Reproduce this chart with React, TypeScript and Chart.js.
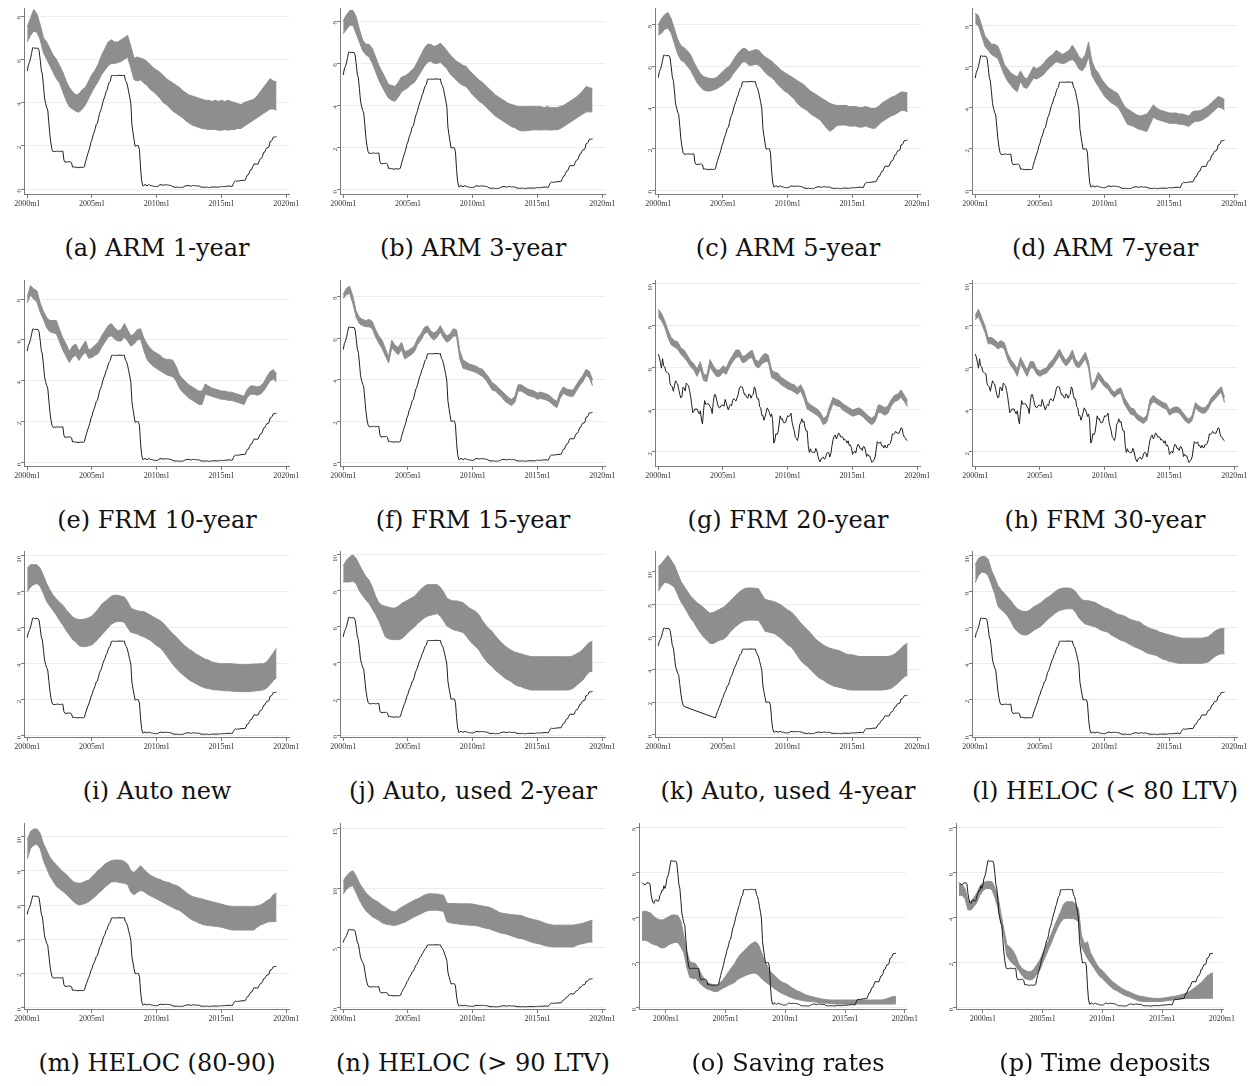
import React, { useEffect, useRef } from "react";
import { Chart, registerables } from "chart.js";

Chart.register(...registerables);

// Effective federal funds rate, monthly from 1998m1
const fedFundsStart = 1998;
const fedFunds = [
  5.56, 5.51, 5.49, 5.45, 5.49, 5.56, 5.54, 5.55, 5.51, 5.07, 4.83, 4.68,
  4.63, 4.76, 4.81, 4.74, 4.74, 4.76, 4.99, 5.07, 5.22, 5.2, 5.42, 5.3,
  5.45, 5.73, 5.85, 6.02, 6.27, 6.53, 6.54, 6.5, 6.52, 6.51, 6.51, 6.4,
  5.98, 5.49, 5.31, 4.8, 4.21, 3.97, 3.77, 3.65, 3.07, 2.49, 2.09, 1.82,
  1.73, 1.74, 1.73, 1.75, 1.75, 1.75, 1.73, 1.74, 1.75, 1.75, 1.34, 1.24,
  1.24, 1.26, 1.25, 1.26, 1.26, 1.22, 1.01, 1.03, 1.01, 1.01, 1.0, 0.98,
  1.0, 1.01, 1.0, 1.0, 1.0, 1.03, 1.26, 1.43, 1.61, 1.76, 1.93, 2.16,
  2.28, 2.5, 2.63, 2.79, 3.0, 3.04, 3.26, 3.5, 3.62, 3.78, 4.0, 4.16,
  4.29, 4.49, 4.59, 4.79, 4.94, 4.99, 5.24, 5.25, 5.25, 5.25, 5.25, 5.24,
  5.25, 5.26, 5.26, 5.25, 5.25, 5.25, 5.26, 5.02, 4.94, 4.76, 4.49, 4.24,
  3.94, 2.98, 2.61, 2.28, 1.98, 2.0, 2.01, 2.0, 1.81, 0.97, 0.39, 0.16,
  0.15, 0.22, 0.18, 0.15, 0.18, 0.21, 0.16, 0.16, 0.15, 0.12, 0.12, 0.12,
  0.11, 0.13, 0.16, 0.2, 0.2, 0.18, 0.18, 0.19, 0.19, 0.19, 0.19, 0.18,
  0.17, 0.16, 0.14, 0.1, 0.09, 0.09, 0.07, 0.1, 0.08, 0.07, 0.08, 0.07,
  0.08, 0.1, 0.13, 0.14, 0.16, 0.16, 0.16, 0.13, 0.14, 0.16, 0.16, 0.16,
  0.14, 0.15, 0.14, 0.15, 0.11, 0.09, 0.09, 0.08, 0.08, 0.09, 0.08, 0.09,
  0.07, 0.07, 0.08, 0.09, 0.09, 0.1, 0.09, 0.09, 0.09, 0.09, 0.09, 0.12,
  0.11, 0.11, 0.11, 0.12, 0.12, 0.13, 0.13, 0.14, 0.14, 0.12, 0.12, 0.24,
  0.34, 0.38, 0.36, 0.37, 0.37, 0.38, 0.39, 0.4, 0.4, 0.4, 0.41, 0.54,
  0.65, 0.66, 0.79, 0.9, 0.91, 1.04, 1.15, 1.16, 1.15, 1.15, 1.16, 1.3,
  1.41, 1.42, 1.51, 1.69, 1.7, 1.82, 1.91, 1.91, 1.95, 2.19, 2.2, 2.27,
  2.4, 2.4, 2.41, 2.42,
];

// 10-year Treasury yield, monthly from 2000m1
const treasuryStart = 2000;
const treasury10 = [
  6.66, 6.52, 6.26, 5.99, 6.44, 6.1, 6.05, 5.83, 5.8, 5.74, 5.72, 5.24,
  5.16, 5.1, 4.89, 5.14, 5.39, 5.28, 5.24, 4.97, 4.73, 4.57, 4.65, 5.09,
  5.04, 4.91, 5.28, 5.21, 5.16, 4.93, 4.65, 4.26, 3.87, 3.94, 4.05, 4.03,
  4.05, 3.9, 3.81, 3.96, 3.57, 3.33, 3.98, 4.45, 4.27, 4.29, 4.3, 4.27,
  4.15, 4.08, 3.83, 4.35, 4.72, 4.73, 4.5, 4.28, 4.13, 4.1, 4.19, 4.23,
  4.22, 4.17, 4.5, 4.34, 4.14, 4.0, 4.18, 4.26, 4.2, 4.46, 4.54, 4.47,
  4.42, 4.57, 4.72, 4.99, 5.11, 5.11, 5.09, 4.88, 4.72, 4.73, 4.6, 4.56,
  4.76, 4.72, 4.56, 4.69, 4.75, 5.1, 5.0, 4.67, 4.52, 4.53, 4.15, 4.1,
  3.74, 3.74, 3.51, 3.68, 3.88, 4.1, 4.01, 3.89, 3.69, 3.81, 3.53, 2.42,
  2.52, 2.87, 2.82, 2.93, 3.29, 3.72, 3.56, 3.59, 3.4, 3.39, 3.4, 3.59,
  3.73, 3.69, 3.73, 3.85, 3.42, 3.2, 3.01, 2.7, 2.65, 2.54, 2.76, 3.29,
  3.39, 3.58, 3.41, 3.46, 3.17, 3.0, 3.0, 2.3, 1.98, 2.15, 2.01, 1.98,
  1.97, 1.97, 2.17, 2.05, 1.8, 1.62, 1.53, 1.68, 1.72, 1.75, 1.65, 1.72,
  1.91, 1.98, 1.96, 1.76, 1.93, 2.3, 2.58, 2.74, 2.81, 2.62, 2.72, 2.9,
  2.86, 2.71, 2.72, 2.71, 2.56, 2.6, 2.54, 2.42, 2.53, 2.3, 2.33, 2.21,
  1.88, 1.98, 2.04, 1.94, 2.2, 2.36, 2.32, 2.17, 2.17, 2.07, 2.26, 2.24,
  2.09, 1.78, 1.89, 1.81, 1.81, 1.64, 1.5, 1.56, 1.63, 1.76, 2.14, 2.49,
  2.43, 2.42, 2.48, 2.3, 2.3, 2.19, 2.32, 2.21, 2.2, 2.36, 2.35, 2.4,
  2.58, 2.86, 2.84, 2.87, 2.98, 2.91, 2.89, 2.89, 3.0, 3.15, 3.12, 2.83,
  2.71, 2.68, 2.57, 2.53,
];

// Quarterly range of offered rates (low / high), from 2000q1
const loanStart = 2000;

const armOneHigh = [
  7.5, 7.9, 8.3, 8.1, 7.6, 7.0, 6.8, 6.5, 6.2, 6.0, 5.7, 5.4, 5.0, 4.7, 4.5, 4.35,
  4.4, 4.6, 4.7, 5.0, 5.3, 5.5, 5.8, 6.2, 6.5, 6.8, 6.9, 6.8, 6.8, 6.9, 7.0, 7.1,
  6.6, 6.05, 6.1, 6.05, 6.0, 5.9, 5.75, 5.6, 5.5, 5.4, 5.25, 5.1, 5.0, 4.9, 4.8, 4.7,
  4.55, 4.45, 4.35, 4.3, 4.25, 4.2, 4.15, 4.1, 4.1, 4.05, 4.1, 4.05, 4.1, 4.05, 4.1, 4.05,
  4.0, 3.95, 3.9, 4.0, 4.05, 4.1, 4.15, 4.3, 4.5, 4.7, 4.9, 5.1, 5.0, 4.95,
];
const armOneLow = [
  6.8, 7.1, 7.3, 7.25, 6.9, 6.3, 6.0, 5.7, 5.4, 5.1, 4.9, 4.5, 4.1, 3.8, 3.7, 3.6,
  3.55, 3.7, 3.9, 4.2, 4.5, 4.75, 5.0, 5.3, 5.5, 5.7, 5.8, 5.8, 5.85, 5.9, 6.0, 6.1,
  5.6, 5.05, 5.0, 5.05, 4.9, 4.8, 4.6, 4.5, 4.35, 4.2, 4.0, 3.9, 3.75, 3.6, 3.5, 3.4,
  3.3, 3.15, 3.05, 2.95, 2.9, 2.85, 2.8, 2.78, 2.75, 2.75, 2.75, 2.72, 2.72, 2.75, 2.72, 2.75,
  2.75, 2.8, 2.8, 2.9, 3.0, 3.1, 3.2, 3.3, 3.4, 3.5, 3.6, 3.7, 3.7, 3.65,
];

const armThreeHigh = [
  8.0, 8.3, 8.5, 8.5, 8.2, 7.6, 7.1, 6.9, 6.9, 6.7, 6.3, 5.9, 5.6, 5.3, 5.0, 4.95,
  4.9, 5.1, 5.35, 5.4, 5.5, 5.65, 5.8, 6.1, 6.4, 6.7, 6.9, 6.9, 6.8, 6.85, 6.95, 6.8,
  6.6, 6.4, 6.25, 6.1, 6.0, 5.9, 5.85, 5.65, 5.5, 5.35, 5.2, 5.1, 4.95, 4.8, 4.65, 4.5,
  4.4, 4.3, 4.2, 4.1, 4.05, 4.0, 3.95, 3.95, 3.95, 3.95, 3.95, 3.95, 3.95, 3.95, 3.9, 3.95,
  3.9, 3.9, 3.9, 3.95, 4.0, 4.1, 4.2, 4.3, 4.4, 4.55, 4.7, 4.9, 4.85, 4.8,
];
const armThreeLow = [
  7.4, 7.6, 7.8, 7.8, 7.4, 7.0, 6.6, 6.4, 6.3, 6.0, 5.6, 5.2, 4.9, 4.6, 4.35, 4.25,
  4.2, 4.4, 4.65, 4.75, 4.85, 5.0, 5.1, 5.35, 5.6, 5.85, 6.05, 6.1, 6.0, 6.0, 6.05, 5.9,
  5.75, 5.5, 5.35, 5.2, 5.05, 4.95, 4.9, 4.7, 4.5, 4.35, 4.2, 4.1, 3.95, 3.8, 3.65, 3.5,
  3.4, 3.3, 3.2, 3.1, 3.0, 2.95, 2.85, 2.8, 2.8, 2.82, 2.84, 2.85, 2.85, 2.84, 2.85, 2.85,
  2.84, 2.85, 2.85, 2.9, 3.0, 3.1, 3.2, 3.3, 3.4, 3.5, 3.6, 3.7, 3.7, 3.7,
];

const armFiveHigh = [
  8.0, 8.3, 8.5, 8.6, 8.3, 7.8, 7.3, 7.0, 6.9, 6.75, 6.55, 6.2, 5.9, 5.65, 5.5, 5.45,
  5.4, 5.4, 5.45, 5.6, 5.75, 5.9, 6.0, 6.25, 6.5, 6.7, 6.85, 6.85, 6.7, 6.75, 6.8, 6.78,
  6.6, 6.45, 6.35, 6.25, 6.1, 5.95, 5.8, 5.7, 5.6, 5.5, 5.4, 5.3, 5.2, 5.1, 4.95, 4.8,
  4.7, 4.6, 4.5, 4.4, 4.3, 4.2, 4.15, 4.1, 4.1, 4.1, 4.1, 4.05, 4.05, 4.05, 4.0, 4.0,
  4.05, 4.0, 3.95, 3.95, 4.05, 4.2, 4.3, 4.4, 4.5, 4.55, 4.65, 4.75, 4.75, 4.7,
];
const armFiveLow = [
  7.5, 7.6, 7.8, 7.85, 7.6, 7.1, 6.6, 6.3, 6.2, 6.0, 5.8, 5.5, 5.2, 5.0, 4.85, 4.8,
  4.8, 4.85, 4.9, 5.0, 5.1, 5.25, 5.35, 5.6, 5.8, 6.0, 6.2, 6.2, 6.05, 6.05, 6.1, 6.05,
  5.9, 5.7, 5.55, 5.45, 5.3, 5.1, 4.95, 4.8, 4.7, 4.55, 4.4, 4.2, 4.05, 3.95, 3.85, 3.7,
  3.6, 3.5, 3.4, 3.2, 3.0, 2.85, 2.95, 3.1, 3.15, 3.15, 3.15, 3.1, 3.1, 3.1, 3.05, 3.05,
  3.1, 3.05, 3.0, 3.0, 3.15, 3.3, 3.4, 3.5, 3.6, 3.65, 3.75, 3.85, 3.85, 3.8,
];

const armSevenHigh = [
  8.6, 8.5, 8.0, 7.5, 7.3, 7.1, 7.1, 7.0, 6.6, 6.1, 5.9, 5.7, 5.6, 5.5, 5.8, 5.5,
  5.4, 5.7, 6.0, 5.9, 6.0, 6.15, 6.35, 6.5, 6.6, 6.8, 6.7, 6.6, 6.7, 6.8, 7.05, 6.8,
  6.5, 6.35, 6.6, 7.2, 6.3, 5.9, 5.7, 5.4, 5.2, 5.0, 4.9, 4.8, 4.7, 4.4, 4.1, 3.95,
  3.85, 3.75, 3.65, 3.6, 3.65, 3.7, 3.9, 4.15, 4.0, 3.9, 3.85, 3.8, 3.75, 3.75, 3.75, 3.7,
  3.7, 3.65, 3.6, 3.8, 3.85, 3.85, 3.9, 4.0, 4.1, 4.25, 4.4, 4.55, 4.5, 4.4,
];
const armSevenLow = [
  8.1, 8.0, 7.5, 7.0, 6.8, 6.6, 6.5, 6.4, 6.0, 5.6, 5.3, 5.1, 4.9, 4.8, 5.3, 5.0,
  4.95, 5.2, 5.45, 5.4, 5.5, 5.6, 5.8, 5.95, 6.1, 6.25, 6.2, 6.15, 6.2, 6.3, 6.35, 6.2,
  5.9, 5.8, 6.0, 6.5, 5.6, 5.3, 5.05, 4.8, 4.55, 4.4, 4.25, 4.15, 4.05, 3.8, 3.5, 3.2,
  3.15, 3.1, 3.0, 2.95, 2.9, 2.85, 3.2, 3.55, 3.45, 3.4, 3.35, 3.3, 3.25, 3.25, 3.25, 3.2,
  3.2, 3.15, 3.1, 3.25, 3.35, 3.35, 3.4, 3.5, 3.6, 3.75, 3.9, 4.05, 4.0, 3.9,
];

const frmTenHigh = [
  8.1, 8.65, 8.5, 8.4, 7.8, 7.4, 7.1, 6.95, 6.95, 6.95, 6.5, 6.1, 5.8, 5.45, 5.7, 5.8,
  5.45, 5.7, 5.95, 5.5, 5.6, 5.75, 5.9, 6.2, 6.45, 6.7, 6.8, 6.6, 6.45, 6.5, 6.8, 6.5,
  6.2, 6.3, 6.5, 6.55, 6.1, 5.8, 5.6, 5.45, 5.35, 5.25, 5.1, 5.05, 5.05, 5.0, 4.7, 4.3,
  4.1, 3.95, 3.8, 3.7, 3.6, 3.5, 3.5, 3.85, 3.75, 3.65, 3.6, 3.55, 3.5, 3.5, 3.45, 3.45,
  3.4, 3.35, 3.3, 3.25, 3.6, 3.75, 3.75, 3.7, 3.75, 3.9, 4.2, 4.45, 4.55, 4.35,
];
const frmTenLow = [
  7.8, 8.2, 8.0, 7.85, 7.35, 7.0, 6.6, 6.4, 6.35, 6.3, 5.9, 5.5, 5.2, 4.9, 5.15, 5.25,
  5.0, 5.25, 5.4, 5.1, 5.15, 5.25, 5.35, 5.65, 5.9, 6.15, 6.2, 6.05, 5.95, 5.95, 6.15, 5.95,
  5.7, 5.8, 6.0, 6.05, 5.5, 5.05, 4.85, 4.7, 4.6, 4.5, 4.4, 4.3, 4.25, 4.2, 4.0, 3.65,
  3.45, 3.3, 3.15, 3.05, 2.95, 2.85, 2.85, 3.35, 3.3, 3.25, 3.2, 3.15, 3.1, 3.1, 3.05, 3.05,
  3.0, 2.95, 2.9, 2.85, 3.2, 3.35, 3.35, 3.3, 3.35, 3.5, 3.75, 4.0, 4.1, 3.95,
];

const frmFifteenHigh = [
  8.1, 8.4, 8.5, 8.0, 7.3, 7.0, 6.9, 6.85, 6.9, 6.8, 6.4, 6.1, 5.9, 5.5, 5.1, 5.9,
  5.65, 5.55, 5.8, 5.35, 5.4, 5.5, 5.65, 6.0, 6.2, 6.5, 6.6, 6.35, 6.25, 6.35, 6.6, 6.3,
  6.1, 6.2, 6.45, 6.4, 5.4, 4.95, 4.85, 4.75, 4.7, 4.65, 4.55, 4.5, 4.3, 4.1, 3.85, 3.75,
  3.6, 3.45, 3.3, 3.15, 3.05, 3.2, 3.75, 3.75, 3.65, 3.55, 3.5, 3.45, 3.35, 3.4, 3.35, 3.3,
  3.2, 3.05, 2.95, 3.4, 3.65, 3.55, 3.5, 3.5, 3.75, 4.0, 4.2, 4.5, 4.4, 4.0,
];
const frmFifteenLow = [
  7.9, 8.1, 8.15, 7.65, 7.0, 6.7, 6.6, 6.55, 6.55, 6.45, 6.05, 5.75, 5.5, 5.15, 4.8, 5.55,
  5.35, 5.2, 5.45, 5.0, 5.1, 5.2, 5.35, 5.7, 5.9, 6.2, 6.3, 6.05, 5.9, 6.05, 6.3, 6.0,
  5.8, 5.9, 6.1, 6.1, 5.0, 4.55, 4.5, 4.45, 4.4, 4.35, 4.25, 4.15, 4.0, 3.75, 3.5, 3.45,
  3.3, 3.15, 2.95, 2.85, 2.75, 2.9, 3.45, 3.45, 3.35, 3.25, 3.2, 3.15, 3.05, 3.1, 3.05, 3.0,
  2.9, 2.75, 2.65, 3.1, 3.35, 3.25, 3.2, 3.2, 3.45, 3.7, 3.9, 4.2, 4.1, 3.7,
];

const frmTwentyHigh = [
  8.8, 8.6, 8.25, 7.8, 7.45, 7.3, 7.25, 6.95, 6.85, 6.6, 6.35, 6.2, 5.95, 6.3, 5.7, 5.65,
  6.4, 6.1, 5.9, 5.9, 6.1, 6.0, 6.35, 6.6, 6.85, 6.85, 6.55, 6.6, 6.75, 6.85, 6.4, 6.3,
  6.55, 6.7, 6.6, 5.9, 5.8, 5.75, 5.55, 5.45, 5.35, 5.25, 5.2, 5.05, 5.2, 4.9, 4.4, 4.25,
  4.15, 4.05, 3.9, 3.6, 3.7, 4.2, 4.6, 4.5, 4.45, 4.3, 4.2, 4.1, 4.0, 4.05, 4.1, 4.0,
  3.85, 3.7, 3.6, 3.75, 4.25, 4.2, 4.1, 4.2, 4.5, 4.7, 4.75, 4.95, 4.7, 4.45,
];
const frmTwentyLow = [
  8.45, 8.25, 7.95, 7.45, 7.1, 7.0, 6.9, 6.65, 6.5, 6.3, 6.05, 5.9, 5.6, 5.95, 5.4, 5.35,
  6.05, 5.8, 5.6, 5.6, 5.8, 5.7, 6.05, 6.3, 6.5, 6.55, 6.25, 6.3, 6.45, 6.5, 6.1, 6.0,
  6.2, 6.3, 6.3, 5.55, 5.45, 5.35, 5.2, 5.1, 5.0, 4.95, 4.85, 4.75, 4.9, 4.55, 4.05, 3.95,
  3.85, 3.75, 3.6, 3.3, 3.4, 3.9, 4.3, 4.2, 4.15, 4.0, 3.9, 3.8, 3.7, 3.75, 3.8, 3.7,
  3.55, 3.4, 3.3, 3.45, 3.9, 3.85, 3.75, 3.85, 4.2, 4.4, 4.45, 4.6, 4.4, 4.15,
];

const frmThirtyHigh = [
  8.5, 8.8, 8.4, 8.0, 7.45, 7.45, 7.35, 7.2, 7.3, 7.2, 6.7, 6.4, 6.2, 5.95, 6.5, 6.2,
  5.9, 6.3, 6.3, 5.95, 5.85, 5.95, 6.0, 6.25, 6.4, 6.65, 6.9, 6.6, 6.35, 6.55, 6.85, 6.4,
  6.25, 6.5, 6.75, 6.3, 5.2, 5.4, 5.8, 5.6, 5.35, 5.25, 5.0, 4.85, 5.0, 5.05, 4.6, 4.35,
  4.1, 4.05, 3.8, 3.7, 3.6, 3.75, 4.5, 4.7, 4.55, 4.45, 4.35, 4.3, 4.0, 4.1, 4.15, 4.1,
  3.9, 3.7, 3.55, 3.75, 4.35, 4.2, 4.1, 4.1, 4.3, 4.6, 4.75, 4.95, 5.1, 4.6,
];
const frmThirtyLow = [
  8.3, 8.45, 8.1, 7.7, 7.15, 7.15, 7.05, 6.9, 7.0, 6.9, 6.4, 6.1, 5.9, 5.6, 6.2, 5.9,
  5.6, 6.0, 6.0, 5.7, 5.6, 5.7, 5.75, 5.95, 6.1, 6.35, 6.6, 6.3, 6.1, 6.25, 6.5, 6.1,
  6.0, 6.2, 6.45, 6.0, 4.95, 5.1, 5.5, 5.3, 5.1, 5.0, 4.75, 4.6, 4.75, 4.8, 4.3, 4.05,
  3.8, 3.75, 3.55, 3.45, 3.35, 3.5, 4.2, 4.4, 4.3, 4.2, 4.1, 4.05, 3.75, 3.85, 3.9, 3.85,
  3.65, 3.45, 3.35, 3.5, 4.1, 3.95, 3.85, 3.85, 4.05, 4.35, 4.5, 4.7, 4.85, 4.35,
];

const autoNewHigh = [
  9.3, 9.5, 9.5, 9.5, 9.3, 8.9, 8.45, 8.1, 7.8, 7.6, 7.4, 7.25, 7.0, 6.8, 6.6, 6.5,
  6.45, 6.45, 6.5, 6.55, 6.65, 6.85, 7.05, 7.3, 7.45, 7.6, 7.75, 7.8, 7.8, 7.75, 7.7, 7.45,
  7.1, 7.0, 6.95, 6.9, 6.9, 6.8, 6.7, 6.6, 6.5, 6.4, 6.25, 6.05, 5.85, 5.65, 5.5, 5.3,
  5.1, 4.95, 4.8, 4.7, 4.55, 4.45, 4.35, 4.25, 4.2, 4.1, 4.05, 4.02, 4.0, 4.0, 4.0, 4.0,
  3.98, 3.96, 3.95, 3.95, 3.95, 3.96, 3.98, 3.98, 4.0, 4.0, 4.1, 4.35, 4.6, 4.85,
];
const autoNewLow = [
  8.0, 8.25, 8.4, 8.45, 8.3, 7.9, 7.45, 7.2, 6.95, 6.7, 6.4, 6.15, 5.85, 5.6, 5.35, 5.2,
  5.0, 4.95, 4.95, 5.0, 5.05, 5.2, 5.4, 5.6, 5.8, 6.0, 6.2, 6.3, 6.35, 6.35, 6.3, 6.0,
  5.75, 5.7, 5.65, 5.55, 5.5, 5.4, 5.3, 5.15, 5.0, 4.9, 4.7, 4.45, 4.2, 3.95, 3.75, 3.55,
  3.4, 3.25, 3.1, 3.0, 2.9, 2.8, 2.72, 2.65, 2.62, 2.58, 2.55, 2.54, 2.52, 2.5, 2.5, 2.48,
  2.47, 2.46, 2.45, 2.45, 2.45, 2.46, 2.48, 2.5, 2.52, 2.55, 2.65, 2.85, 3.05, 3.25,
];

const autoUsed2High = [
  9.4, 9.7, 9.9, 10.0, 9.8, 9.45, 9.1, 8.8, 8.6, 8.2, 7.7, 7.35, 7.2, 7.15, 7.1, 7.05,
  7.05, 7.15, 7.3, 7.4, 7.5, 7.6, 7.7, 7.9, 8.1, 8.25, 8.35, 8.35, 8.35, 8.35, 8.2, 7.95,
  7.6, 7.5, 7.45, 7.45, 7.4, 7.35, 7.2, 7.05, 6.95, 6.85, 6.65, 6.35, 6.1, 5.9, 5.75, 5.5,
  5.3, 5.1, 4.95, 4.8, 4.7, 4.6, 4.55, 4.5, 4.45, 4.4, 4.35, 4.35, 4.35, 4.35, 4.35, 4.35,
  4.35, 4.35, 4.35, 4.35, 4.35, 4.35, 4.35, 4.4, 4.5, 4.6, 4.75, 4.95, 5.15, 5.2,
];
const autoUsed2Low = [
  8.5, 8.5, 8.5, 8.55, 8.4, 8.0, 7.75, 7.5, 7.3, 7.0, 6.7, 6.35, 5.9, 5.45, 5.35, 5.3,
  5.3, 5.3, 5.35, 5.5, 5.7, 5.85, 6.0, 6.2, 6.35, 6.5, 6.6, 6.65, 6.7, 6.75, 6.6, 6.35,
  6.05, 5.95, 5.85, 5.8, 5.75, 5.7, 5.5, 5.25, 5.05, 4.9, 4.7, 4.4, 4.15, 3.95, 3.8, 3.6,
  3.45, 3.3, 3.15, 3.05, 2.95, 2.8, 2.72, 2.68, 2.6, 2.55, 2.5, 2.5, 2.5, 2.5, 2.5, 2.5,
  2.5, 2.5, 2.5, 2.5, 2.5, 2.5, 2.52, 2.6, 2.75, 2.9, 3.05, 3.3, 3.5, 3.55,
];

const autoUsed4High = [
  10.3, 10.5, 10.75, 11.0, 10.7, 10.4, 9.9, 9.4, 9.1, 8.8, 8.5, 8.3, 8.1, 7.95, 7.8, 7.6,
  7.45, 7.5, 7.6, 7.7, 7.8, 7.95, 8.15, 8.35, 8.55, 8.75, 8.9, 8.98, 9.0, 9.0, 8.98, 8.95,
  8.6, 8.3, 8.25, 8.2, 8.15, 8.05, 7.95, 7.8, 7.65, 7.55, 7.35, 7.1, 6.85, 6.65, 6.45, 6.25,
  6.0, 5.8, 5.65, 5.5, 5.4, 5.3, 5.25, 5.2, 5.15, 5.05, 4.95, 4.9, 4.9, 4.85, 4.8, 4.8,
  4.8, 4.8, 4.8, 4.8, 4.8, 4.8, 4.8, 4.8, 4.85, 4.95, 5.1, 5.3, 5.5, 5.6,
];
const autoUsed4Low = [
  8.8, 9.1, 9.35, 9.3, 9.2, 9.05, 8.6, 8.15, 7.85, 7.5, 7.15, 6.9, 6.55, 6.25, 6.0, 5.8,
  5.6, 5.6, 5.7, 5.8, 5.85, 6.0, 6.25, 6.45, 6.65, 6.8, 6.95, 7.0, 7.03, 7.03, 7.03, 7.0,
  6.7, 6.35, 6.3, 6.25, 6.2, 6.05, 5.9, 5.7, 5.5, 5.4, 5.15, 4.85, 4.55, 4.35, 4.2, 4.0,
  3.8, 3.6, 3.45, 3.35, 3.2, 3.1, 3.0, 2.95, 2.9, 2.85, 2.8, 2.75, 2.74, 2.74, 2.74, 2.74,
  2.74, 2.74, 2.74, 2.74, 2.74, 2.74, 2.76, 2.8, 2.85, 3.0, 3.15, 3.35, 3.55, 3.65,
];

const helocUnder80High = [
  9.5, 9.85, 9.95, 9.95, 9.8, 9.2, 8.8, 8.35, 8.1, 7.9, 7.7, 7.5, 7.25, 7.05, 6.95, 6.9,
  6.9, 7.0, 7.15, 7.25, 7.35, 7.5, 7.65, 7.75, 7.9, 8.05, 8.15, 8.2, 8.2, 8.2, 8.15, 8.0,
  7.75, 7.55, 7.5, 7.5, 7.45, 7.4, 7.3, 7.2, 7.1, 7.05, 6.95, 6.85, 6.75, 6.7, 6.65, 6.55,
  6.45, 6.4, 6.35, 6.3, 6.15, 6.05, 5.95, 5.9, 5.85, 5.75, 5.7, 5.65, 5.6, 5.55, 5.5, 5.45,
  5.42, 5.42, 5.42, 5.42, 5.42, 5.42, 5.42, 5.45, 5.5, 5.65, 5.8, 5.9, 5.95, 5.95,
];
const helocUnder80Low = [
  8.5, 8.9, 9.1, 9.05, 8.9, 8.4, 7.9, 7.2, 7.0, 6.85, 6.65, 6.35, 6.0, 5.8, 5.65, 5.6,
  5.6, 5.7, 5.85, 5.95, 6.05, 6.2, 6.4, 6.55, 6.7, 6.85, 6.95, 7.0, 7.05, 7.05, 7.05, 6.85,
  6.55, 6.35, 6.2, 6.15, 6.1, 6.05, 5.95, 5.85, 5.8, 5.75, 5.6, 5.5, 5.4, 5.3, 5.25, 5.15,
  5.05, 4.95, 4.88, 4.8, 4.7, 4.6, 4.55, 4.5, 4.45, 4.35, 4.25, 4.2, 4.12, 4.1, 4.05, 4.02,
  4.02, 4.02, 4.02, 4.02, 4.02, 4.02, 4.02, 4.05, 4.1, 4.25, 4.4, 4.5, 4.55, 4.55,
];

const heloc80to90High = [
  9.8, 10.3, 10.45, 10.45, 10.2, 9.6, 9.2, 8.8, 8.55, 8.35, 8.15, 7.95, 7.8, 7.6, 7.4, 7.3,
  7.27, 7.3, 7.4, 7.47, 7.65, 7.85, 8.05, 8.2, 8.4, 8.5, 8.6, 8.63, 8.63, 8.63, 8.55, 8.4,
  8.0, 7.9, 8.1, 8.3, 8.1, 7.9, 7.75, 7.65, 7.55, 7.5, 7.4, 7.35, 7.3, 7.2, 7.15, 7.05,
  6.9, 6.75, 6.6, 6.5, 6.45, 6.4, 6.35, 6.3, 6.25, 6.2, 6.15, 6.1, 6.05, 6.0, 5.95, 5.92,
  5.9, 5.9, 5.9, 5.9, 5.9, 5.9, 5.9, 5.95, 6.0, 6.1, 6.25, 6.35, 6.6, 6.7,
];
const heloc80to90Low = [
  8.7, 9.3, 9.5, 9.55, 9.3, 8.6, 8.15, 7.7, 7.4, 7.1, 6.95, 6.8, 6.65, 6.45, 6.25, 6.1,
  6.0, 6.05, 6.1, 6.2, 6.35, 6.5, 6.7, 6.85, 7.05, 7.2, 7.35, 7.37, 7.35, 7.3, 7.27, 7.2,
  6.75, 6.6, 6.75, 6.85, 6.8, 6.65, 6.55, 6.45, 6.35, 6.25, 6.15, 6.05, 5.95, 5.85, 5.75, 5.7,
  5.55, 5.4, 5.25, 5.12, 5.05, 4.95, 4.88, 4.83, 4.8, 4.78, 4.76, 4.74, 4.7, 4.65, 4.6, 4.55,
  4.54, 4.54, 4.54, 4.54, 4.54, 4.54, 4.54, 4.7, 4.83, 4.9, 5.0, 5.03, 5.03, 5.05,
];

const helocOver90High = [
  10.6, 11.0, 11.3, 11.45, 11.0, 10.4, 10.0, 9.6, 9.35, 9.1, 8.95, 8.8, 8.55, 8.4, 8.2, 8.05,
  8.0, 8.2, 8.4, 8.55, 8.7, 8.85, 9.0, 9.1, 9.25, 9.4, 9.5, 9.53, 9.5, 9.5, 9.45, 9.4,
  8.75, 8.7, 8.7, 8.7, 8.68, 8.68, 8.68, 8.68, 8.66, 8.6, 8.55, 8.5, 8.45, 8.4, 8.3, 8.15,
  8.0, 7.9, 7.86, 7.82, 7.78, 7.75, 7.73, 7.7, 7.6, 7.5, 7.42, 7.35, 7.3, 7.2, 7.1, 7.0,
  6.95, 6.9, 6.9, 6.9, 6.9, 6.9, 6.9, 6.9, 6.95, 7.0, 7.05, 7.15, 7.25, 7.3,
];
const helocOver90Low = [
  9.5, 9.9, 10.1, 10.2, 9.6, 9.0, 8.5, 8.1, 7.85, 7.6, 7.45, 7.3, 7.1, 7.0, 6.95, 6.9,
  6.89, 6.95, 7.05, 7.15, 7.3, 7.45, 7.6, 7.72, 7.85, 8.0, 8.1, 8.14, 8.15, 8.15, 8.1, 8.05,
  7.2, 7.1, 7.05, 7.03, 6.98, 6.95, 6.92, 6.9, 6.89, 6.85, 6.8, 6.7, 6.65, 6.6, 6.5, 6.4,
  6.3, 6.22, 6.18, 6.1, 6.0, 5.9, 5.82, 5.78, 5.7, 5.6, 5.5, 5.42, 5.36, 5.3, 5.2, 5.15,
  5.1, 5.08, 5.08, 5.08, 5.08, 5.08, 5.08, 5.08, 5.2, 5.3, 5.36, 5.42, 5.48, 5.5,
];

// Deposit rates, quarterly from 1998q1
const depositStart = 1998;

const savingHigh = [
  4.25, 4.3, 4.25, 4.2, 4.05, 3.95, 3.9, 3.9,
  3.97, 4.05, 4.12, 4.12, 4.1, 3.85, 3.2, 2.5, 2.05, 2.0, 1.95, 1.7, 1.45, 1.25, 1.12, 1.05,
  1.02, 1.0, 1.1, 1.22, 1.4, 1.6, 1.78, 1.95, 2.2, 2.38, 2.5, 2.65, 2.78, 2.87, 2.93, 2.8,
  2.45, 2.1, 1.85, 1.6, 1.48, 1.35, 1.22, 1.12, 1.08, 1.0, 0.9, 0.82, 0.74, 0.7, 0.62, 0.56,
  0.52, 0.49, 0.45, 0.42, 0.39, 0.37, 0.35, 0.34, 0.34, 0.34, 0.34, 0.34, 0.34, 0.34, 0.34, 0.34,
  0.34, 0.34, 0.34, 0.34, 0.34, 0.34, 0.34, 0.34, 0.34, 0.36, 0.4, 0.45, 0.49, 0.5,
];
const savingLow = [
  3.0, 3.0, 2.95, 2.87, 2.8, 2.78, 2.68, 2.65,
  2.7, 2.8, 2.86, 2.9, 2.9, 2.7, 2.45, 1.8, 1.35, 1.3, 1.3, 1.15, 1.0, 0.9, 0.82, 0.78,
  0.72, 0.71, 0.77, 0.86, 0.92, 1.0, 1.06, 1.12, 1.25, 1.33, 1.39, 1.45, 1.5, 1.53, 1.53, 1.45,
  1.3, 1.18, 1.08, 0.98, 0.88, 0.78, 0.7, 0.62, 0.57, 0.5, 0.45, 0.4, 0.36, 0.34, 0.31, 0.29,
  0.28, 0.27, 0.25, 0.23, 0.21, 0.2, 0.2, 0.19, 0.17, 0.16, 0.16, 0.16, 0.16, 0.16, 0.16, 0.16,
  0.16, 0.16, 0.16, 0.16, 0.16, 0.16, 0.16, 0.16, 0.16, 0.16, 0.16, 0.16, 0.16, 0.17,
];

const timeDepositHigh = [
  5.5, 5.45, 5.3, 4.8, 4.7, 4.9, 5.1, 5.4,
  5.55, 5.6, 5.62, 5.6, 5.35, 5.0, 4.2, 3.5, 2.8, 2.7, 2.55, 2.3, 1.95, 1.75, 1.67, 1.6,
  1.6, 1.7, 1.9, 2.1, 2.4, 2.7, 3.0, 3.3, 3.65, 3.95, 4.25, 4.6, 4.71, 4.71, 4.71, 4.6,
  4.4, 3.2, 2.85, 2.93, 2.45, 2.2, 1.95, 1.75, 1.65, 1.5, 1.35, 1.2, 1.1, 1.0, 0.9, 0.82,
  0.75, 0.7, 0.64, 0.58, 0.53, 0.5, 0.48, 0.45, 0.43, 0.42, 0.41, 0.41, 0.42, 0.44, 0.46, 0.48,
  0.5, 0.53, 0.56, 0.6, 0.64, 0.7, 0.8, 0.9, 1.0, 1.1, 1.25, 1.4, 1.5, 1.55,
];
const timeDepositLow = [
  5.0, 5.0, 4.85, 4.35, 4.34, 4.5, 4.68, 5.0,
  5.2, 5.3, 5.3, 5.25, 4.9, 4.45, 3.8, 3.2, 2.3, 2.1, 1.95, 1.85, 1.65, 1.45, 1.3, 1.25,
  1.23, 1.3, 1.48, 1.65, 2.0, 2.3, 2.62, 2.9, 3.25, 3.55, 3.8, 3.95, 3.97, 3.97, 3.97, 3.92,
  3.82, 2.7, 2.45, 2.2, 2.0, 1.8, 1.6, 1.4, 1.3, 1.15, 1.02, 0.9, 0.8, 0.74, 0.66, 0.58,
  0.52, 0.48, 0.42, 0.36, 0.31, 0.28, 0.27, 0.27, 0.27, 0.27, 0.27, 0.27, 0.28, 0.3, 0.32, 0.33,
  0.35, 0.37, 0.38, 0.4, 0.41, 0.41, 0.41, 0.41, 0.41, 0.42, 0.42, 0.42, 0.42, 0.42,
];

// Months with no policy-rate observation in the used-auto 4-year sample
const autoUsed4RateGap = [2002.05, 2004.4];

const xTickYears = [2000, 2005, 2010, 2015, 2020];
const ticksEvenTo8 = [0, 2, 4, 6, 8];
const ticksEvenTo10 = [0, 2, 4, 6, 8, 10];
const ticksTwoTo10 = [2, 4, 6, 8, 10];
const ticksByFive = [0, 5, 10, 15];

type Panel = {
  caption: string;
  high: number[];
  low: number[];
  start: number;
  rate: "fedFunds" | "treasury";
  yMin: number;
  yMax: number;
  yTicks: number[];
  gap?: number[];
};

const panels: Panel[] = [
  { caption: "(a) ARM 1-year", high: armOneHigh, low: armOneLow, start: loanStart, rate: "fedFunds", yMin: -0.23, yMax: 8.37, yTicks: ticksEvenTo8 },
  { caption: "(b) ARM 3-year", high: armThreeHigh, low: armThreeLow, start: loanStart, rate: "fedFunds", yMin: -0.19, yMax: 8.62, yTicks: ticksEvenTo8 },
  { caption: "(c) ARM 5-year", high: armFiveHigh, low: armFiveLow, start: loanStart, rate: "fedFunds", yMin: -0.19, yMax: 8.82, yTicks: ticksEvenTo8 },
  { caption: "(d) ARM 7-year", high: armSevenHigh, low: armSevenLow, start: loanStart, rate: "fedFunds", yMin: -0.19, yMax: 8.86, yTicks: ticksEvenTo8 },
  { caption: "(e) FRM 10-year", high: frmTenHigh, low: frmTenLow, start: loanStart, rate: "fedFunds", yMin: -0.16, yMax: 8.93, yTicks: ticksEvenTo8 },
  { caption: "(f) FRM 15-year", high: frmFifteenHigh, low: frmFifteenLow, start: loanStart, rate: "fedFunds", yMin: -0.16, yMax: 8.8, yTicks: ticksEvenTo8 },
  { caption: "(g) FRM 20-year", high: frmTwentyHigh, low: frmTwentyLow, start: loanStart, rate: "treasury", yMin: 1.33, yMax: 10.19, yTicks: ticksTwoTo10 },
  { caption: "(h) FRM 30-year", high: frmThirtyHigh, low: frmThirtyLow, start: loanStart, rate: "treasury", yMin: 1.33, yMax: 10.19, yTicks: ticksTwoTo10 },
  { caption: "(i) Auto new", high: autoNewHigh, low: autoNewLow, start: loanStart, rate: "fedFunds", yMin: -0.07, yMax: 10.26, yTicks: ticksEvenTo10 },
  { caption: "(j) Auto, used 2-year", high: autoUsed2High, low: autoUsed2Low, start: loanStart, rate: "fedFunds", yMin: -0.11, yMax: 10.22, yTicks: ticksEvenTo10 },
  { caption: "(k) Auto, used 4-year", high: autoUsed4High, low: autoUsed4Low, start: loanStart, rate: "fedFunds", yMin: -0.14, yMax: 11.27, yTicks: ticksEvenTo10, gap: autoUsed4RateGap },
  { caption: "(l) HELOC (< 80 LTV)", high: helocUnder80High, low: helocUnder80Low, start: loanStart, rate: "fedFunds", yMin: -0.07, yMax: 10.26, yTicks: ticksEvenTo10 },
  { caption: "(m) HELOC (80-90)", high: heloc80to90High, low: heloc80to90Low, start: loanStart, rate: "fedFunds", yMin: -0.08, yMax: 10.8, yTicks: ticksEvenTo10 },
  { caption: "(n) HELOC (> 90 LTV)", high: helocOver90High, low: helocOver90Low, start: loanStart, rate: "fedFunds", yMin: -0.11, yMax: 15.44, yTicks: ticksByFive },
  { caption: "(o) Saving rates", high: savingHigh, low: savingLow, start: depositStart, rate: "fedFunds", yMin: -0.06, yMax: 8.21, yTicks: ticksEvenTo8 },
  { caption: "(p) Time deposits", high: timeDepositHigh, low: timeDepositLow, start: depositStart, rate: "fedFunds", yMin: -0.06, yMax: 8.21, yTicks: ticksEvenTo8 },
];

const BAND_GRAY = "#8e8e8e";
const LINE_COLOR = "#1e1e1e";
const AXIS_COLOR = "#7a7a7a";
const GRID_COLOR = "#ececec";

const CANVAS_W = 313;
const CANVAS_H = 215;
const ROW_TOPS = [0, 272, 543, 815];
const COL_LEFTS = [0, 316, 631, 948];

const quarterly = (start: number, values: number[]) =>
  values.map((y, i) => ({ x: start + i / 4, y }));

const monthly = (start: number, values: number[]) =>
  values.map((y, i) => ({ x: start + i / 12, y: y as number | null }));

function rateSeries(panel: Panel) {
  const pts =
    panel.rate === "treasury"
      ? monthly(treasuryStart, treasury10)
      : monthly(fedFundsStart, fedFunds);
  const fromYear = panel.start - 1e-6;
  return pts
    .filter((p) => p.x >= fromYear)
    .map((p) =>
      panel.gap && p.x > panel.gap[0] && p.x < panel.gap[1] ? { x: p.x, y: null } : p
    );
}

function PanelChart({ panel }: { panel: Panel }) {
  const ref = useRef<HTMLCanvasElement | null>(null);

  useEffect(() => {
    if (!ref.current) return;
    const long = panel.start < 2000;
    const axisW = long ? 12 : 24;
    const xMin = long ? 1997.75 : 1999.75;
    const xMax = long ? 2020.1 : 2020.25;
    const pxPerYear = long ? 11.95 : 12.95;
    const plotRight = axisW + (xMax - xMin) * pxPerYear;

    const chart = new Chart(ref.current, {
      type: "line",
      data: {
        datasets: [
          {
            data: rateSeries(panel),
            borderColor: LINE_COLOR,
            borderWidth: 1,
            pointRadius: 0,
            fill: false,
            spanGaps: true,
            tension: 0,
          },
          {
            data: quarterly(panel.start, panel.low),
            borderColor: BAND_GRAY,
            borderWidth: 1,
            pointRadius: 0,
            fill: false,
            tension: 0,
          },
          {
            data: quarterly(panel.start, panel.high),
            borderColor: BAND_GRAY,
            backgroundColor: BAND_GRAY,
            borderWidth: 1,
            pointRadius: 0,
            fill: "-1",
            tension: 0,
          },
        ],
      },
      options: {
        animation: false,
        responsive: false,
        events: [],
        layout: {
          padding: { top: 8, left: 0, bottom: 0, right: CANVAS_W - plotRight },
        },
        plugins: {
          legend: { display: false },
          tooltip: { enabled: false },
        },
        scales: {
          x: {
            type: "linear",
            min: xMin,
            max: xMax,
            afterBuildTicks: (scale: any) => {
              scale.ticks = xTickYears.map((value) => ({ value }));
            },
            afterFit: (scale: any) => {
              scale.height = CANVAS_H - 194;
            },
            ticks: {
              callback: (v: any) => `${v}m1`,
              font: { family: "Liberation Serif", size: 8 },
              color: "#333",
              padding: 1,
              maxRotation: 0,
              minRotation: 0,
              autoSkip: false,
            },
            grid: {
              drawOnChartArea: false,
              drawTicks: true,
              tickLength: 4,
              tickColor: AXIS_COLOR,
            },
            border: { display: true, color: AXIS_COLOR, width: 1 },
          },
          y: {
            type: "linear",
            min: panel.yMin,
            max: panel.yMax,
            afterBuildTicks: (scale: any) => {
              scale.ticks = panel.yTicks.map((value) => ({ value }));
            },
            afterFit: (scale: any) => {
              scale.width = axisW;
            },
            ticks: {
              callback: (v: any) => String(v),
              font: { family: "Liberation Serif", size: 7 },
              color: "#444",
              padding: 2,
              minRotation: 90,
              maxRotation: 90,
              autoSkip: false,
            },
            grid: {
              color: GRID_COLOR,
              lineWidth: 1,
              drawTicks: true,
              tickLength: 3,
              tickColor: AXIS_COLOR,
            },
            border: { display: true, color: AXIS_COLOR, width: 1 },
          },
        },
      },
    } as any);

    return () => chart.destroy();
  }, [panel]);

  return (
    <canvas
      ref={ref}
      width={CANVAS_W}
      height={CANVAS_H}
      style={{ display: "block", width: CANVAS_W, height: CANVAS_H }}
    />
  );
}

export default function App() {
  useEffect(() => {
    document.body.style.margin = "0";
    document.body.style.background = "#ffffff";
  }, []);

  return (
    <div
      style={{
        position: "relative",
        width: 1252,
        height: 1086,
        background: "#ffffff",
        overflow: "hidden",
      }}
    >
      {panels.map((panel, i) => {
        const row = Math.floor(i / 4);
        const col = i % 4;
        const long = panel.start < 2000;
        const left = COL_LEFTS[col] - (long ? 4 : 0);
        const top = ROW_TOPS[row];
        return (
          <div key={panel.caption}>
            <div style={{ position: "absolute", left, top }}>
              <PanelChart panel={panel} />
            </div>
            <div
              style={{
                position: "absolute",
                left: COL_LEFTS[col] + 157 - 160,
                top: top + 234,
                width: 320,
                textAlign: "center",
                fontFamily: "'DejaVu Serif', serif",
                fontSize: 24,
                lineHeight: "28px",
                color: "#111",
                whiteSpace: "nowrap",
              }}
            >
              {panel.caption}
            </div>
          </div>
        );
      })}
    </div>
  );
}
